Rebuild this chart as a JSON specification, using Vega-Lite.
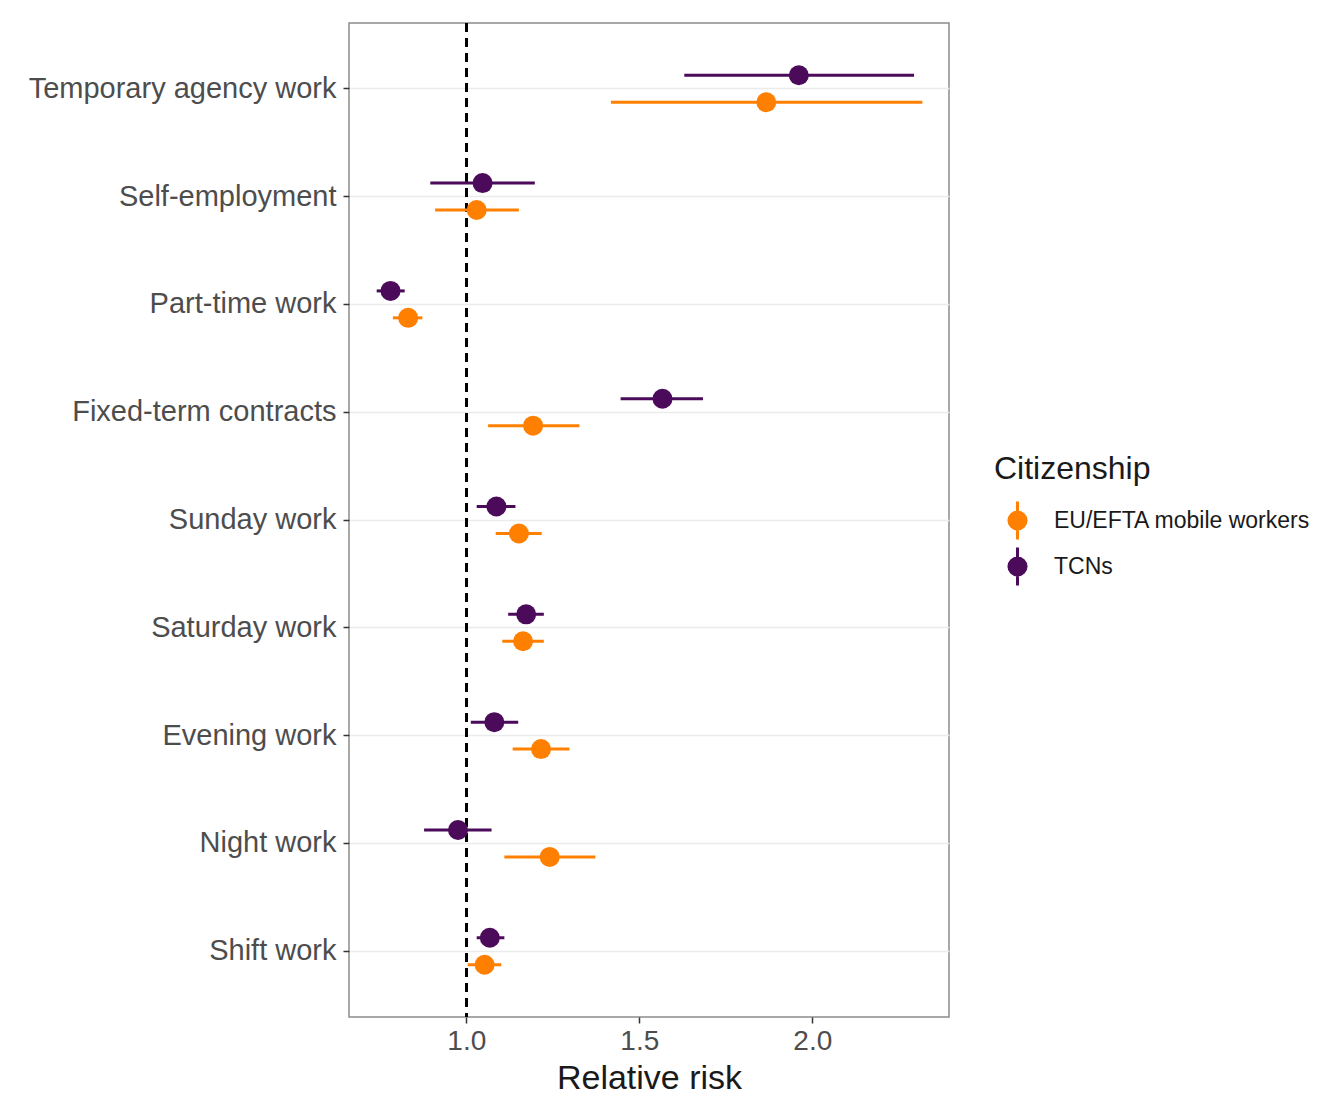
{
  "$schema": "https://vega.github.io/schema/vega-lite/v6.json",
  "width": 600,
  "height": 994,
  "autosize": {"type": "none"},
  "padding": {"left": 349, "top": 23, "right": 368, "bottom": 77},
  "background": "white",
  "config": {
    "font": "Liberation Sans",
    "view": {"stroke": "#8C8C8C", "strokeWidth": 1.5},
    "axis": {"domain": false, "gridColor": "#EBEBEB", "gridWidth": 1.5, "tickColor": "#333333", "tickWidth": 1.5, "tickSize": 6, "labelColor": "#4D4D4D", "labelFont": "Liberation Sans", "titleFont": "Liberation Sans", "labelLimit": 0}
  },
  "data": {
    "values": [
      {"type": "Temporary agency work", "group": "TCNs", "rr": 1.961, "lo": 1.630, "hi": 2.294},
      {"type": "Temporary agency work", "group": "EU/EFTA mobile workers", "rr": 1.867, "lo": 1.418, "hi": 2.318},
      {"type": "Self-employment", "group": "TCNs", "rr": 1.047, "lo": 0.896, "hi": 1.198},
      {"type": "Self-employment", "group": "EU/EFTA mobile workers", "rr": 1.030, "lo": 0.910, "hi": 1.152},
      {"type": "Part-time work", "group": "TCNs", "rr": 0.781, "lo": 0.741, "hi": 0.822},
      {"type": "Part-time work", "group": "EU/EFTA mobile workers", "rr": 0.832, "lo": 0.788, "hi": 0.873},
      {"type": "Fixed-term contracts", "group": "TCNs", "rr": 1.567, "lo": 1.446, "hi": 1.684},
      {"type": "Fixed-term contracts", "group": "EU/EFTA mobile workers", "rr": 1.193, "lo": 1.063, "hi": 1.327},
      {"type": "Sunday work", "group": "TCNs", "rr": 1.087, "lo": 1.030, "hi": 1.142},
      {"type": "Sunday work", "group": "EU/EFTA mobile workers", "rr": 1.152, "lo": 1.085, "hi": 1.218},
      {"type": "Saturday work", "group": "TCNs", "rr": 1.173, "lo": 1.121, "hi": 1.224},
      {"type": "Saturday work", "group": "EU/EFTA mobile workers", "rr": 1.164, "lo": 1.104, "hi": 1.224},
      {"type": "Evening work", "group": "TCNs", "rr": 1.081, "lo": 1.013, "hi": 1.150},
      {"type": "Evening work", "group": "EU/EFTA mobile workers", "rr": 1.216, "lo": 1.134, "hi": 1.298},
      {"type": "Night work", "group": "TCNs", "rr": 0.976, "lo": 0.878, "hi": 1.073},
      {"type": "Night work", "group": "EU/EFTA mobile workers", "rr": 1.241, "lo": 1.110, "hi": 1.373},
      {"type": "Shift work", "group": "TCNs", "rr": 1.068, "lo": 1.030, "hi": 1.110},
      {"type": "Shift work", "group": "EU/EFTA mobile workers", "rr": 1.053, "lo": 1.004, "hi": 1.101}
    ]
  },
  "encoding": {
    "y": {
      "field": "type", "type": "nominal",
      "sort": ["Temporary agency work", "Self-employment", "Part-time work", "Fixed-term contracts", "Sunday work", "Saturday work", "Evening work", "Night work", "Shift work"],
      "scale": {"paddingInner": 0, "paddingOuter": 0.11},
      "axis": {"title": null, "bandPosition": 0.5, "labelFontSize": 29, "labelPadding": 7, "grid": true}
    },
    "yOffset": {
      "field": "group", "type": "nominal",
      "sort": ["TCNs", "EU/EFTA mobile workers"],
      "scale": {"paddingInner": 0, "paddingOuter": 1.06}
    },
    "color": {
      "field": "group", "type": "nominal",
      "sort": ["EU/EFTA mobile workers", "TCNs"],
      "scale": {"domain": ["EU/EFTA mobile workers", "TCNs"], "range": ["#FF8000", "#4B0A5A"]},
      "legend": {
        "title": "Citizenship",
        "orient": "none",
        "legendX": 645,
        "legendY": 431,
        "titleFontSize": 32,
        "titleFontWeight": "normal",
        "titleColor": "#1A1A1A",
        "titlePadding": 14,
        "labelFontSize": 23,
        "labelColor": "#1A1A1A",
        "labelLimit": 0,
        "labelOffset": 16,
        "rowPadding": -5,
        "symbolOffset": 3,
        "symbolType": "M0,-1L0,1M-0.45,0A0.45,0.45,0,1,1,0.45,0A0.45,0.45,0,1,1,-0.45,0Z",
        "symbolSize": 1444,
        "symbolStrokeWidth": 3,
        "encode": {"symbols": {"update": {"stroke": {"scale": "color", "field": "value"}, "strokeWidth": {"value": 3}}}}
      }
    }
  },
  "layer": [
    {
      "mark": {"type": "rule", "strokeDash": [9, 6], "strokeWidth": 2.5, "color": "black"},
      "encoding": {"x": {"datum": 1}, "y": null, "yOffset": null, "color": null}
    },
    {
      "mark": {"type": "rule", "strokeWidth": 3},
      "encoding": {
        "x": {
          "field": "lo", "type": "quantitative",
          "scale": {"domain": [0.661, 2.395], "nice": false, "zero": false},
          "axis": {
            "title": "Relative risk",
            "titleFontSize": 34,
            "titleFontWeight": "normal",
            "titleColor": "#1A1A1A",
            "titlePadding": 6,
            "values": [0.75, 1, 1.25, 1.5, 1.75, 2, 2.25],
            "format": ".1f",
            "labelExpr": "datum.value % 0.5 == 0 ? datum.label : ''",
            "labelFontSize": 28,
            "labelPadding": 4,
            "tickOpacity": {"condition": {"test": "datum.value % 0.5 != 0", "value": 0}, "value": 1},
            "gridWidth": {"condition": {"test": "datum.value % 0.5 != 0", "value": 1}, "value": 1.5}
          }
        },
        "x2": {"field": "hi"}
      }
    },
    {
      "mark": {"type": "point", "filled": true, "shape": "circle", "size": 400, "opacity": 1},
      "encoding": {"x": {"field": "rr", "type": "quantitative"}}
    }
  ]
}
